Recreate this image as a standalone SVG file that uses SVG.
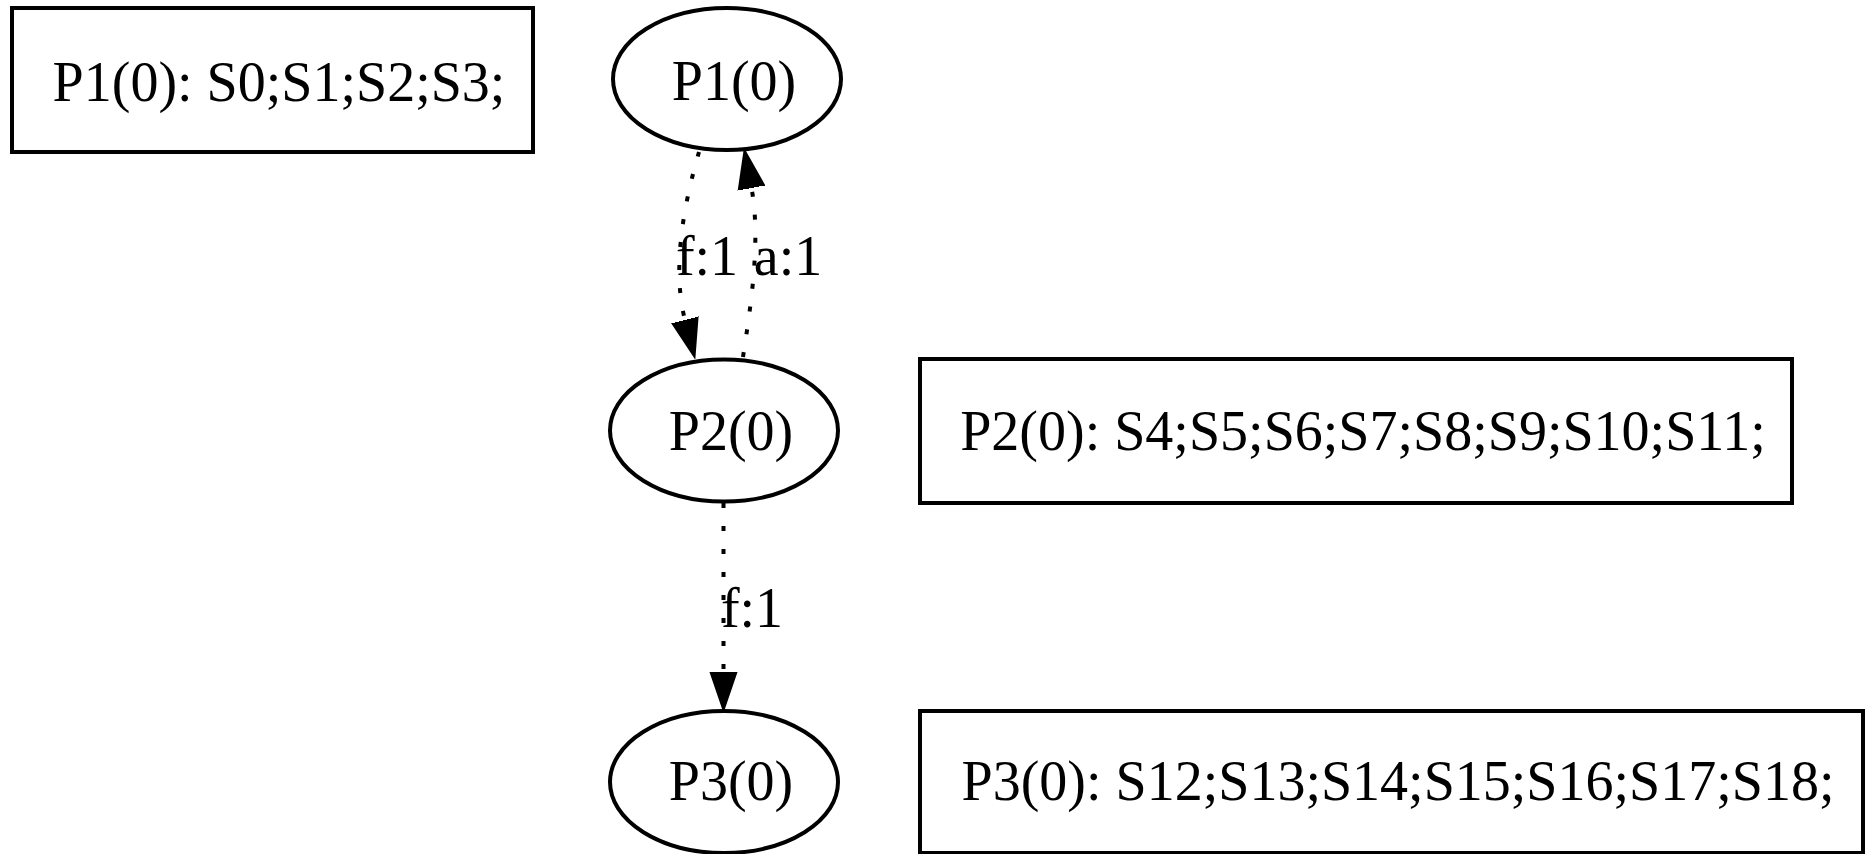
<svg xmlns="http://www.w3.org/2000/svg" width="1870" height="854" viewBox="0 0 1870 854">
<style>
  .shape { fill: #ffffff; stroke: #000000; stroke-width: 4; }
  .lbl { font-family: "Liberation Serif", "Times New Roman", serif; font-size: 56px; fill: #000000; text-anchor: middle; }
  .edge { fill: none; stroke: #000000; stroke-width: 4; stroke-dasharray: 5 18; }
</style>
<defs>
  <marker id="arrow" markerUnits="userSpaceOnUse" markerWidth="40" markerHeight="30" viewBox="0 -15 40 30" refX="0" refY="0" orient="auto">
    <path d="M0,-13 L38,0 L0,13 Z" fill="#000000" stroke="#000000" stroke-width="2"/>
  </marker>
</defs>
<rect width="1870" height="854" fill="#ffffff"/>

<g id="box1">
  <rect class="shape" x="12" y="8" width="521" height="144"/>
  <text class="lbl" x="279" y="101">P1(0): S0;S1;S2;S3;</text>
</g>
<g id="P1">
  <ellipse class="shape" cx="727" cy="79" rx="114" ry="71"/>
  <text class="lbl" x="734" y="100">P1(0)</text>
</g>
<g id="P2">
  <ellipse class="shape" cx="724" cy="430.5" rx="114" ry="71"/>
  <text class="lbl" x="731" y="450">P2(0)</text>
</g>
<g id="box2">
  <rect class="shape" x="920" y="359" width="872" height="144"/>
  <text class="lbl" x="1363" y="450">P2(0): S4;S5;S6;S7;S8;S9;S10;S11;</text>
</g>
<g id="P3">
  <ellipse class="shape" cx="724" cy="782" rx="114" ry="71"/>
  <text class="lbl" x="731" y="800">P3(0)</text>
</g>
<g id="box3">
  <rect class="shape" x="920" y="711" width="943" height="142"/>
  <text class="lbl" x="1398" y="800">P3(0): S12;S13;S14;S15;S16;S17;S18;</text>
</g>

<g id="connectors">
  <path class="edge" d="M699,152 C688,190 670,262 685,320" marker-end="url(#arrow)"/>
  <text class="lbl" x="707" y="275">f:1</text>
  <path class="edge" d="M743,357 C751,305 761,239 751.5,188" marker-end="url(#arrow)"/>
  <text class="lbl" x="788" y="275">a:1</text>
  <path class="edge" d="M723.5,503 L723.5,672" marker-end="url(#arrow)"/>
  <text class="lbl" x="752" y="627">f:1</text>
</g>
</svg>
